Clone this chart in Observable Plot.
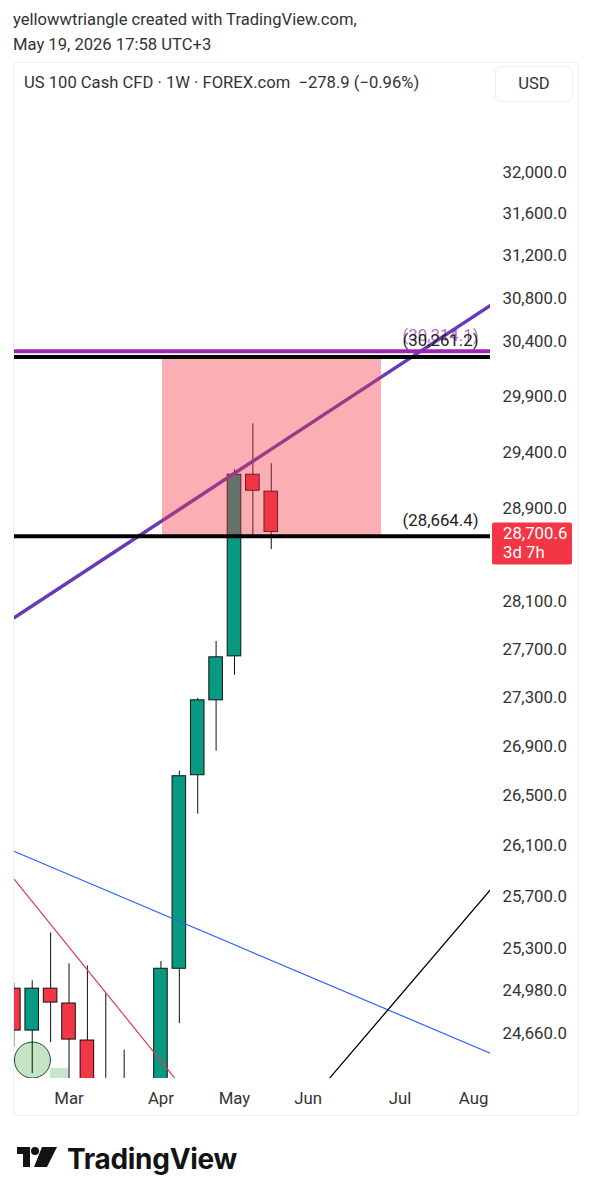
<!DOCTYPE html>
<html>
<head>
<meta charset="utf-8">
<script src="https://cdn.jsdelivr.net/npm/d3@7"></script>
<script src="https://cdn.jsdelivr.net/npm/@observablehq/plot@0.6"></script>
<style>
  body { margin: 0; background: #fff; font-family: Roboto, "Noto Sans", sans-serif; color: #333; }
  #wrap { position: relative; width: 593px; height: 1200px; overflow: hidden; }
  .t { position: absolute; white-space: nowrap; font-size: 16.6px; line-height: 20px; color: #333; }
  #panel { position: absolute; left: 13px; top: 62px; width: 564px; height: 1052px; border: 1px solid #eceef2; border-radius: 4px; }
  #usd { position: absolute; left: 495px; top: 66px; width: 76px; height: 34px; border: 1px solid #eceef2; border-radius: 6px; font-size: 16.6px; line-height: 34px; text-align: center; color: #333; }
  #chart { position: absolute; left: 14px; top: 104px; }
  #logo { position: absolute; left: 17px; top: 1147px; }
  #brand { position: absolute; left: 67px; top: 1142px; font-family: Inter, Roboto, sans-serif; font-weight: 700; font-size: 28px; line-height: 34px; color: #131313; letter-spacing: -0.3px; }
</style>
</head>
<body>
<div id="wrap">
  <div class="t" style="left:13px;top:10px;">yellowwtriangle created with TradingView.com,</div>
  <div class="t" style="left:13px;top:35px;">May 19, 2026 17:58 UTC+3</div>
  <div id="panel"></div>
  <div class="t" style="left:24px;top:73px;">US 100 Cash CFD · 1W · FOREX.com &nbsp;−278.9 (−0.96%)</div>
  <div id="usd">USD</div>
  <div id="chart"></div>
  <svg id="logo" width="42" height="21" viewBox="0 0 42 21">
    <rect x="0" y="0" width="13" height="7" fill="#131313"/>
    <rect x="6" y="0" width="7" height="20" fill="#131313"/>
    <circle cx="18" cy="4" r="4" fill="#131313"/>
    <polygon points="25,0 40,0 30,20 17,20" fill="#131313"/>
  </svg>
  <div id="brand">TradingView</div>
</div>
<script>
// ---- data (weekly candles, US 100 Cash CFD) ----
const weeks  = ["2026-02-09","2026-02-16","2026-02-23","2026-03-02","2026-03-09","2026-03-16","2026-03-23","2026-03-30",
                "2026-04-06","2026-04-13","2026-04-20","2026-04-27","2026-05-04","2026-05-11","2026-05-18"];
const opens  = [24998, 24683, 24998, 24886, 24609, 24050, 23900, 23500, 23850, 25149, 26665, 27276, 27641, 29202, 29053];
const highs  = [25040, 25058, 25423, 25186, 25171, 24960, 24537, 24150, 25204, 26698, 27292, 27766, 29246, 29655, 29300];
const lows   = [24560, 24364, 24593, 24150, 23800, 23600, 23300, 23100, 23700, 24735, 26353, 26860, 27483, 28652, 28548];
const closes = [24683, 24998, 24893, 24616, 24050, 23900, 23500, 23850, 25149, 26657, 27276, 27633, 29202, 29061, 28700.6];

const yTicks = [32000, 31600, 31200, 30800, 30400, 29900, 29400, 28900, 28100, 27700, 27300, 26900, 26500, 26100, 25700, 25300, 24980, 24660];
const monthTicks = ["2026-03-02","2026-04-06","2026-05-04","2026-06-01","2026-07-06","2026-08-03"];

const blackLevels = [30261.2, 28664.4];
const purpleLevels = [30314.1];

const zoneDates = ["2026-04-06T14:00Z", "2026-06-28T23:00Z"];
const zonePrices = [28664.4, 30261.2];

const purpleTrendDates = ["2026-02-09T06:00Z", "2026-08-09T11:00Z"];
const purpleTrendPrices = [27968, 30736];
const blueTrendDates = ["2026-02-09T06:00Z", "2026-08-09T11:00Z"];
const blueTrendPrices = [26057, 24514];
const redTrendDates = ["2026-02-09T06:00Z", "2026-04-13T15:00Z"];
const redTrendPrices = [25837, 24274];
const blackTrendDates = ["2026-06-09T07:00Z", "2026-08-09T11:00Z"];
const blackTrendPrices = [24333, 25757];

const circleDates = ["2026-02-16T02:00Z"];
const circlePrices = [24464];
const greenBoxDates = ["2026-02-23T00:00Z", "2026-03-02T00:00Z"];
const greenBoxPrices = [24200, 24403];

const lastPrice = 28700.6;
const countdown = "3d 7h";

// ---- build tables ----
const candles = weeks.map((w, i) => ({date: new Date(w), open: opens[i], high: highs[i], low: lows[i], close: closes[i]}));
const pts = (ds, ps) => ds.map((d, i) => ({date: new Date(d), price: ps[i]}));
const fmt = d3.format(",.1f");

function priceTag(...args) {
  const scales = args.find(a => a && typeof a.y === "function");
  const dims = args.find(a => a && typeof a.marginRight === "number" && typeof a.width === "number");
  const y = scales.y(lastPrice);
  const x0 = dims.width - dims.marginRight + 2;
  const g = d3.create("svg:g").attr("text-anchor", "start");
  g.append("rect").attr("x", x0).attr("y", y - 9).attr("width", 80).attr("height", 42).attr("rx", 2).attr("fill", "#f23645");
  g.append("text").attr("x", x0 + 11).attr("y", y + 2).attr("dy", "0.35em").attr("fill", "#fff").attr("font-size", 16.8).text(fmt(lastPrice));
  g.append("text").attr("x", x0 + 11).attr("y", y + 21).attr("dy", "0.35em").attr("fill", "#fff").attr("font-size", 16.8).text(countdown);
  return g.node();
}

const chart = Plot.plot({
  width: 564,
  height: 1011,
  marginLeft: 0,
  marginRight: 88,
  marginTop: 0,
  marginBottom: 37,
  style: {fontFamily: "Roboto, sans-serif", fontSize: "16.8px", color: "#333", background: "transparent", overflow: "visible"},
  x: {type: "utc", domain: [new Date("2026-02-09T06:00Z"), new Date("2026-08-09T11:00Z")],
      ticks: monthTicks.map(d => new Date(d)), tickFormat: d3.utcFormat("%b"), tickSize: 0, tickPadding: 14, label: null},
  y: {type: "log", domain: [24328, 32662], axis: "right", ticks: yTicks, tickFormat: fmt, tickSize: 0, tickPadding: 12, label: null},
  marks: [
    Plot.rect([0], {x1: () => new Date(greenBoxDates[0]), x2: () => new Date(greenBoxDates[1]),
                    y1: () => greenBoxPrices[0], y2: () => greenBoxPrices[1], fill: "#c8e6c9", clip: true}),
    Plot.dot(pts(circleDates, circlePrices), {x: "date", y: "price", r: 18, fill: "#c3e4c5", stroke: "#1f4d24", strokeWidth: 1, clip: true}),
    Plot.ruleX(candles, {x: "date", y1: "low", y2: "high", stroke: "#111", strokeWidth: 1, clip: true}),
    Plot.rect(candles, {
      x1: d => d3.utcHour.offset(d.date, -62), x2: d => d3.utcHour.offset(d.date, 62),
      y1: "open", y2: "close",
      fill: d => d.close >= d.open ? "#089981" : "#f23645",
      stroke: "#111", strokeWidth: 1, clip: true
    }),
    Plot.line(pts(purpleTrendDates, purpleTrendPrices), {x: "date", y: "price", stroke: "#673ab7", strokeWidth: 3.5, clip: true}),
    Plot.rect([0], {x1: () => new Date(zoneDates[0]), x2: () => new Date(zoneDates[1]),
                    y1: () => zonePrices[0], y2: () => zonePrices[1], fill: "#f23645", fillOpacity: 0.4}),
    Plot.line(pts(blueTrendDates, blueTrendPrices), {x: "date", y: "price", stroke: "#2962ff", strokeWidth: 1.2, clip: true}),
    Plot.line(pts(redTrendDates, redTrendPrices), {x: "date", y: "price", stroke: "#e53950", strokeWidth: 1.2, clip: true}),
    Plot.line(pts(blackTrendDates, blackTrendPrices), {x: "date", y: "price", stroke: "#000", strokeWidth: 1.3, clip: true}),
    Plot.ruleY(purpleLevels, {stroke: "#9c27b0", strokeWidth: 4}),
    Plot.ruleY(blackLevels, {stroke: "#000", strokeWidth: 4}),
    Plot.text(purpleLevels, {y: d => d, text: d => `(${fmt(d)})`, frameAnchor: "right", textAnchor: "end", dx: -12, dy: -16, fill: "#9c27b0", fillOpacity: 0.7}),
    Plot.text(blackLevels, {y: d => d, text: d => `(${fmt(d)})`, frameAnchor: "right", textAnchor: "end", dx: -12, dy: -16, fill: "#222"}),
    priceTag
  ]
});
document.getElementById("chart").appendChild(chart);
</script>
</body>
</html>
